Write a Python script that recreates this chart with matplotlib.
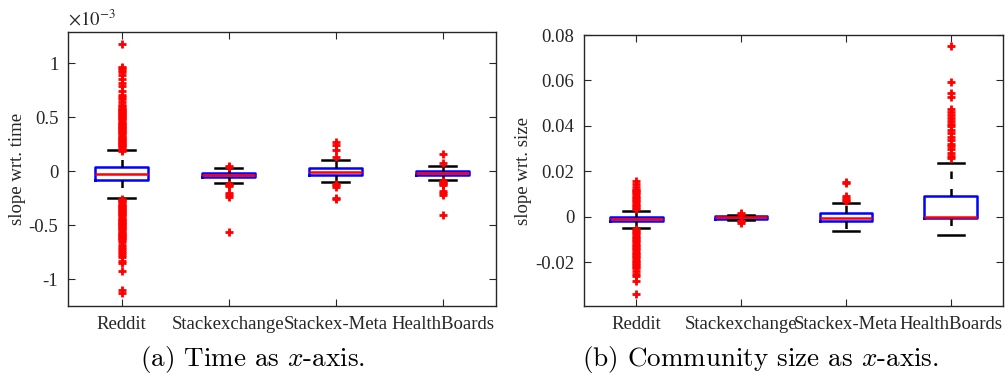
import matplotlib
matplotlib.use('Agg')
import matplotlib.pyplot as plt

categories = ['Reddit', 'Stackexchange', 'Stackex-Meta', 'HealthBoards']

# panel (a): slope wrt. time, values in units of 1e-3
time_q1 = [-0.083, -0.058, -0.031, -0.034]
time_med = [-0.025, -0.034, -0.010, -0.016]
time_q3 = [0.037, -0.019, 0.025, 0.003]
time_lo = [-0.25, -0.114, -0.10, -0.083]
time_hi = [0.20, 0.034, 0.10, 0.046]
time_out_reddit = [0.19, 0.20, 0.21, 0.22, 0.23, 0.24, 0.25, 0.26, 0.27, 0.28, 0.29,
                   0.30, 0.31, 0.32, 0.33, 0.34, 0.35, 0.36, 0.37, 0.38, 0.39, 0.40,
                   0.41, 0.42, 0.43, 0.44, 0.45, 0.46, 0.47, 0.48, 0.49, 0.50, 0.51,
                   0.52, 0.53, 0.54, 0.55, 0.56, 0.57, 0.58, 0.59, 0.60, 0.61,
                   0.64, 0.67, 0.69, 0.71, 0.74, 0.79, 0.82, 0.85, 0.89, 0.92, 0.94,
                   0.96, 0.97, 1.18,
                   -0.26, -0.27, -0.28, -0.29, -0.30, -0.31, -0.32, -0.33, -0.34,
                   -0.35, -0.36, -0.37, -0.38, -0.39, -0.40, -0.41, -0.42, -0.43,
                   -0.44, -0.45, -0.46, -0.47, -0.48, -0.49, -0.50, -0.51, -0.52,
                   -0.53, -0.54, -0.55, -0.56, -0.57, -0.58, -0.59, -0.60, -0.61,
                   -0.62, -0.63, -0.64, -0.66, -0.68, -0.70, -0.72, -0.74, -0.76,
                   -0.78, -0.80, -0.83, -0.85, -0.93, -1.10, -1.13]
time_out_stack = [0.05, 0.04, -0.12, -0.13, -0.14, -0.20, -0.22, -0.24, -0.56]
time_out_meta = [0.27, 0.24, 0.20, 0.127, -0.12, -0.13, -0.15, -0.25, -0.26]
time_out_health = [0.157, 0.08, -0.09, -0.10, -0.11, -0.12, -0.13, -0.18, -0.20,
                   -0.22, -0.41]

# panel (b): slope wrt. size
size_q1 = [-0.0020, -0.0009, -0.0016, -0.0004]
size_med = [-0.0009, -0.0002, -0.0006, 0.0001]
size_q3 = [0.0000, 0.0006, 0.0018, 0.0093]
size_lo = [-0.0047, -0.0013, -0.0062, -0.0080]
size_hi = [0.0027, 0.0010, 0.0062, 0.0237]
size_out_reddit = [0.0033, 0.0040, 0.0047, 0.0054, 0.0061, 0.0068, 0.0075, 0.0082,
                   0.0089, 0.0096, 0.0103, 0.0110, 0.0117, 0.012, 0.013, 0.0145,
                   0.016,
                   -0.0052, -0.0059, -0.0066, -0.0073, -0.0080, -0.0087, -0.0094,
                   -0.0101, -0.0108, -0.0115, -0.0122, -0.0129, -0.0136, -0.0143,
                   -0.0150, -0.0157, -0.0164, -0.0171, -0.0178, -0.0185, -0.0192,
                   -0.0199, -0.0206, -0.0213, -0.0220, -0.0227, -0.024, -0.025,
                   -0.026, -0.028, -0.034]
size_out_stack = [0.0018, 0.0014, -0.0016, -0.0020, -0.0027]
size_out_meta = [0.0152, 0.0148, 0.0094, 0.0085, 0.0075, 0.0068]
size_out_health = [0.075, 0.0593, 0.0544, 0.0526, 0.0474, 0.046, 0.045, 0.0435,
                   0.042, 0.041, 0.040, 0.038, 0.037, 0.035, 0.034, 0.032, 0.031,
                   0.030, 0.028, 0.027, 0.026]

time_out = [time_out_reddit, time_out_stack, time_out_meta, time_out_health]
size_out = [size_out_reddit, size_out_stack, size_out_meta, size_out_health]

plt.rcParams['font.family'] = ['Liberation Serif', 'DejaVu Serif']
plt.rcParams['mathtext.fontset'] = 'stix'

fig = plt.figure(figsize=(10.05, 3.74), dpi=100)
ax1 = fig.add_axes([0.0677, 0.1818, 0.4259, 0.7326])
ax2 = fig.add_axes([0.5811, 0.1818, 0.4169, 0.7246])

FS = 13.5


def stats(q1, med, q3, lo, hi, out):
    return [dict(q1=q1[i], med=med[i], q3=q3[i], whislo=lo[i], whishi=hi[i],
                 fliers=out[i]) for i in range(len(q1))]


def draw(ax, st, ylim, yticks, ylabels, ylab):
    ax.bxp(st, positions=[1, 2, 3, 4], widths=0.5, capwidths=0.25,
           boxprops=dict(color='#0000ff', lw=1.8),
           medianprops=dict(color='#ff0000', lw=1.8),
           whiskerprops=dict(color='black', lw=1.8, ls=(0, (3, 4))),
           capprops=dict(color='black', lw=1.8),
           flierprops=dict(marker='+', markeredgecolor='#ff0000', markersize=6,
                           mew=2.0, ls='none'))
    ax.set_xlim(0.5, 4.5)
    ax.set_ylim(*ylim)
    ax.set_xticks([1, 2, 3, 4])
    ax.set_xticklabels(categories, fontsize=FS, color='#262626')
    ax.set_yticks(yticks)
    ax.set_yticklabels(ylabels, fontsize=FS, color='#262626')
    ax.set_ylabel(ylab, fontsize=FS, color='#262626', labelpad=2)
    ax.tick_params(direction='in', top=True, right=True, length=5, width=0.8,
                   color='#262626', pad=7)
    for s in ax.spines.values():
        s.set_linewidth(1.0)
        s.set_color('#262626')


draw(ax1, stats(time_q1, time_med, time_q3, time_lo, time_hi, time_out),
     (-1.25, 1.29), [-1, -0.5, 0, 0.5, 1], ['-1', '-0.5', '0', '0.5', '1'],
     'slope wrt. time')
ax1.text(0.0, 1.01, r'$\times10^{-3}$', transform=ax1.transAxes, fontsize=FS,
         color='#262626', ha='left', va='bottom')

draw(ax2, stats(size_q1, size_med, size_q3, size_lo, size_hi, size_out),
     (-0.0392, 0.08), [-0.02, 0, 0.02, 0.04, 0.06, 0.08],
     ['-0.02', '0', '0.02', '0.04', '0.06', '0.08'], 'slope wrt. size')

fig.text(0.251, 0.04, r'(a) Time as $x$-axis.', fontsize=19.5, family='cmr10',
         math_fontfamily='cm', ha='center', va='center')
fig.text(0.757, 0.04, r'(b) Community size as $x$-axis.', fontsize=19.5,
         family='cmr10', math_fontfamily='cm', ha='center', va='center')

fig.savefig('out.png', dpi=100)
